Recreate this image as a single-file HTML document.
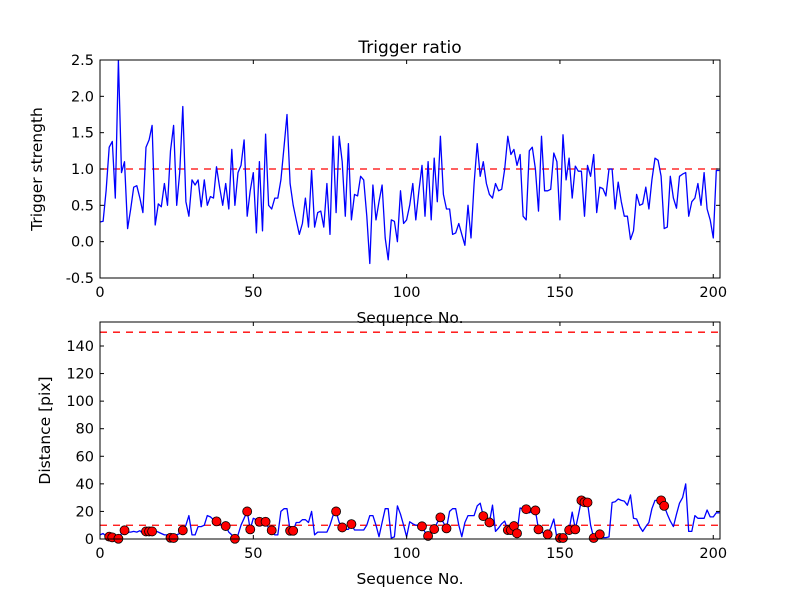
<!DOCTYPE html>
<html><head><meta charset="utf-8"><style>
html,body{margin:0;padding:0;background:#fff;}
svg{display:block;font-family:"DejaVu Sans","Liberation Sans",sans-serif;}
</style></head><body>
<svg id="fig" width="800" height="600" viewBox="0 0 800 600" xmlns="http://www.w3.org/2000/svg">
<rect width="800" height="600" fill="#ffffff"/>
<text x="410" y="53" font-size="17" text-anchor="middle">Trigger ratio</text>
</svg>
<script>
const ratioValues=[0.27,0.28,0.7,1.3,1.38,0.6,2.5,0.95,1.1,0.18,0.45,0.75,0.77,0.6,0.4,1.3,1.4,1.6,0.23,0.52,0.48,0.8,0.5,1.25,1.6,0.5,0.95,1.86,0.55,0.35,0.85,0.78,0.85,0.48,0.85,0.5,0.62,0.6,1.03,0.75,0.5,0.8,0.45,1.27,0.5,0.95,1.05,1.4,0.35,0.7,0.95,0.12,1.1,0.15,1.48,0.5,0.45,0.6,0.6,0.85,1.3,1.75,0.8,0.5,0.3,0.1,0.25,0.6,0.2,0.98,0.2,0.4,0.42,0.2,0.8,0.1,1.45,0.4,1.45,1.1,0.35,1.35,0.3,0.65,0.63,0.9,0.85,0.35,-0.3,0.78,0.3,0.55,0.78,0.05,-0.25,0.3,0.28,0.0,0.7,0.25,0.3,0.5,0.8,0.3,0.7,1.05,0.35,1.1,0.3,1.15,0.55,1.45,0.65,0.45,0.45,0.1,0.12,0.25,0.1,-0.05,0.5,0.05,0.8,1.35,0.9,1.1,0.8,0.65,0.6,0.8,0.7,0.72,1.0,1.45,1.2,1.27,1.05,1.2,0.35,0.3,1.25,1.3,1.0,0.42,1.45,0.7,0.7,0.72,1.22,1.1,0.3,1.47,0.85,1.15,0.6,1.04,0.97,0.97,0.35,1.05,0.9,1.2,0.4,0.75,0.73,0.63,1.0,1.0,0.45,0.82,0.55,0.35,0.35,0.03,0.15,0.65,0.5,0.52,0.75,0.45,0.85,1.15,1.12,0.9,0.18,0.2,0.9,0.6,0.46,0.9,0.93,0.95,0.35,0.55,0.6,0.8,0.5,0.95,0.45,0.3,0.05,0.98,0.98];
const distValues=[3,4,2,1.7,1.2,2,0.2,4,6.3,5,5,5.5,5,6,4,5.5,5.5,5.5,6,5,4,3,3,0.9,0.7,3,4,6.3,10,17,3,3,9,9,10,17,16,14,12.8,11,10,9.4,5,3,0.2,3,10,15,20,7,15,14,12.5,12.5,12.5,8,6.3,3,3,20,22,22,6,6,12,12,14,14,12,20,3,5,5,5,5,10,17,20,12,8.4,7,7,10.8,6.5,6.5,6.5,6.5,10,17,17,10,1.7,12,22,22,0.7,1.5,24,18,10,1.5,12.5,11,10,10,9.2,5,2.2,5,7.2,12,15.7,12,7.7,20,22,22,10,1.7,12,17,17,17,24,26,16.6,14,12,24.5,5.5,8,11,13,6.5,6.5,9.4,4.1,22.5,22,21.6,19,20,20.7,7,5,4,3.4,8,14.5,0.7,0.7,0.7,4,6.5,19.5,7,17,28,26.7,26.5,10,0.7,2,3.4,1,1,1.5,26.5,27,29,28,27.5,24.5,32,15,14.5,9,5.5,9,12,22,28,28,28,24,18,13,9,18,26,30,40,5.5,5.5,17,15,15,15,21,16,16,19,19];
const dotIndex=[3,4,6,8,15,16,17,23,24,27,38,41,44,48,49,52,54,56,62,63,77,79,82,105,107,109,111,113,125,127,133,134,135,136,139,142,143,146,150,151,153,155,157,158,159,161,163,183,184];
const dotValues=[1.7,1.2,0.2,6.3,5.5,5.5,5.5,0.9,0.7,6.3,12.8,9.4,0.2,20,7,12.5,12.5,6.3,6,6,20,8.4,10.8,9.2,2.2,7.2,15.7,7.7,16.6,12,6.5,6.5,9.4,4.1,21.6,20.7,7,3.4,0.7,0.7,6.5,7,28,26.7,26.5,0.7,3.4,28,24];
const xTicks=[0,50,100,150,200];
const ratioTicks=[-0.5,0.0,0.5,1.0,1.5,2.0,2.5];
const distTicks=[0,20,40,60,80,100,120,140];
const ratioThreshold=[1.0];
const distThresholds=[10,150];

const NS="http://www.w3.org/2000/svg";
const svg=document.getElementById('fig');
function mk(tag,attrs,parent){const e=document.createElementNS(NS,tag);for(const k in attrs)e.setAttribute(k,attrs[k]);(parent||svg).appendChild(e);return e;}
const L=100,R=720,XMAX=202.2;
function sx(v){return L+(v/XMAX)*(R-L);}
function panel(name,top,bot,ymin,ymax,ticks,fmt,ylabel,ylx){
  const g=mk('g',{});
  
  
  const sy=v=>bot-(v-ymin)/(ymax-ymin)*(bot-top);
  return {g,sy,top,bot,ticks,fmt,ylabel,ylx,name};
}
function frame(p){
  const g=p.g;
  const ax=mk('g',{},g);
  
  
  mk('rect',{x:L,y:p.top,width:R-L,height:p.bot-p.top,fill:'none',stroke:'#000','stroke-width':1},ax);
  xTicks.forEach(t=>{const x=sx(t);
    mk('line',{x1:x,y1:p.bot,x2:x,y2:p.bot-4,stroke:'#000'},ax);
    mk('line',{x1:x,y1:p.top,x2:x,y2:p.top+4,stroke:'#000'},ax);
    const tx=mk('text',{x:x,y:p.bot+19,'font-size':14.5,'text-anchor':'middle'},ax);
    
    
    tx.textContent=t;});
  p.ticks.forEach(t=>{const y=p.sy(t);
    mk('line',{x1:L,y1:y,x2:L+4,y2:y,stroke:'#000'},ax);
    mk('line',{x1:R,y1:y,x2:R-4,y2:y,stroke:'#000'},ax);
    const tx=mk('text',{x:L-6,y:y+5,'font-size':14.5,'text-anchor':'end'},ax);
    
    
    tx.textContent=p.fmt(t);});
  const xl=mk('text',{x:410,y:p.bot+45,'font-size':15.5,'text-anchor':'middle'},g);
  
  
  xl.textContent='Sequence No.';
  const cy=(p.top+p.bot)/2;
  const yl=mk('text',{x:p.ylx,y:cy,'font-size':15.5,'text-anchor':'middle',transform:`rotate(-90 ${p.ylx} ${cy})`},g);
  
  
  yl.textContent=p.ylabel;
}
function line(p,vals,name){
  const pts=vals.map((v,i)=>sx(i).toFixed(1)+','+p.sy(v).toFixed(1)).join(' ');
  const pl=mk('polyline',{points:pts,fill:'none',stroke:'#0000ff','stroke-width':1.3,'stroke-linejoin':'round'},p.g);
  
  
}
function hline(p,v,name){
  const l=mk('line',{x1:L,x2:R,y1:p.sy(v),y2:p.sy(v),stroke:'#ff0000','stroke-width':1.3,'stroke-dasharray':'7,6'},p.g);
  
  
}
const cp=mk('clipPath',{id:'c1'},svg);
mk('rect',{x:L,y:60,width:R-L,height:218},cp);
const p1=panel('trigger-ratio',60,278,-0.5,2.5,ratioTicks,t=>t.toFixed(1),'Trigger strength',42);
ratioThreshold.forEach(v=>hline(p1,v,'threshold-line'));
const c1=mk('g',{'clip-path':'url(#c1)'},p1.g);
line({g:c1,sy:p1.sy},ratioValues,'trigger-ratio-line');
frame(p1);
const p2=panel('distance',322,539,0,157.4,distTicks,t=>String(t),'Distance [pix]',50);
distThresholds.forEach(v=>hline(p2,v,'threshold-line'));
line(p2,distValues,'distance-line');
dotIndex.forEach((ix,k)=>{
  const c=mk('circle',{cx:sx(ix),cy:p2.sy(dotValues[k]),r:4.5,fill:'#ff0000',stroke:'#000','stroke-width':0.8},p2.g);
  
  
});
frame(p2);
</script>
</body></html>
